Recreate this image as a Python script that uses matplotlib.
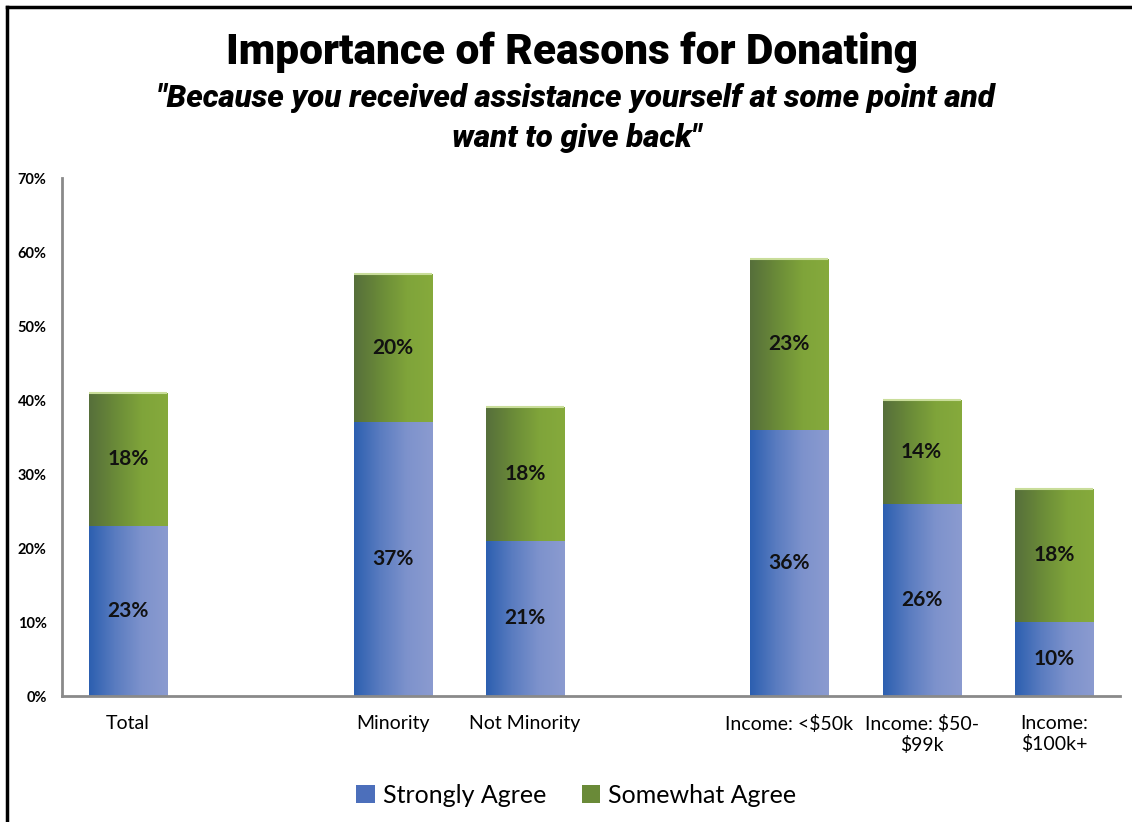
import matplotlib
matplotlib.use("Agg")
import matplotlib.pyplot as plt
import numpy as np
from matplotlib.colors import LinearSegmentedColormap
from matplotlib.patches import Rectangle
from matplotlib.lines import Line2D

categories = ["Total", "", "Minority", "Not Minority", "", "Income: <$50k", "Income: $50-\n$99k", "Income:\n$100k+"]
strongly = [23, None, 37, 21, None, 36, 26, 10]
somewhat = [18, None, 20, 18, None, 23, 14, 18]
series_names = ["Strongly Agree", "Somewhat Agree"]
yticks = [0, 10, 20, 30, 40, 50, 60, 70]

title = "Importance of Reasons for Donating"
subtitle = "\"Because you received assistance yourself at some point and\nwant to give back\""

W, H = 1132, 822
fig = plt.figure(figsize=(W / 100, H / 100), dpi=100)
ax = fig.add_axes([62 / W, 1 - 696 / H, (1120 - 62) / W, (696 - 178) / H])

blue_cmap = LinearSegmentedColormap.from_list("b", ["#2c5fb0", "#5a7cc0", "#7d92cc", "#8b9bd0"])
green_cmap = LinearSegmentedColormap.from_list("g", ["#566f3b", "#6a8a38", "#7fa43a", "#86aa3c"])
grad = np.linspace(0, 1, 256).reshape(1, -1)

x = np.arange(len(categories))
width = 0.59
label_font = ["Lato", "DejaVu Sans"]

for i in x:
    if strongly[i] is None:
        continue
    s, m = strongly[i], somewhat[i]
    for bottom, val, cmap in [(0, s, blue_cmap), (s, m, green_cmap)]:
        bars = ax.bar(i, val, width, bottom=bottom, color="none", edgecolor="none")
        patch = bars[0]
        im = ax.imshow(grad, cmap=cmap, aspect="auto", interpolation="bicubic",
                       extent=[i - width / 2, i + width / 2, bottom, bottom + val], zorder=2)
        im.set_clip_path(patch)
        ax.text(i, bottom + val / 2, f"{val}%", ha="center", va="center",
                fontsize=15, fontweight="bold", family=label_font, color="#111111", zorder=3)
    ax.hlines(s + m, i - width / 2, i + width / 2, color="#c9dd9a", lw=1.5, zorder=3)

ax.set_xlim(-0.5, len(categories) - 0.5)
ax.set_ylim(0, 70)
ax.set_yticks(yticks)
ax.set_yticklabels([f"{v}%" for v in yticks], fontsize=10.5, fontweight="bold", family=label_font)
ax.set_xticks(x)
ax.set_xticklabels(categories, fontsize=14, family=label_font, linespacing=1.2)
ax.tick_params(axis="both", length=0)
ax.tick_params(axis="y", pad=11)
ax.tick_params(axis="x", pad=14)
for sp in ["top", "right"]:
    ax.spines[sp].set_visible(False)
for sp in ["left", "bottom"]:
    ax.spines[sp].set_color("#8a8a8a")
    ax.spines[sp].set_linewidth(2)

title_font = ["Roboto", "DejaVu Sans"]
fig.text(0.505, 1 - 52 / H, title, ha="center", va="center", fontsize=30.5,
         fontweight="black", family=title_font)
fig.text(0.509, 1 - 118 / H, subtitle, ha="center", va="center", fontsize=22.5,
         fontweight="black", style="italic", family=title_font, linespacing=1.4)

handles = [Rectangle((0, 0), 1, 1, facecolor="#4c6fbb"), Rectangle((0, 0), 1, 1, facecolor="#6a8a38")]
fig.legend(handles, series_names, loc="center", bbox_to_anchor=(0.509, 1 - 795 / H), ncol=2,
           frameon=False, prop={"family": label_font, "size": 18}, handlelength=0.75,
           handleheight=0.75, handletextpad=0.3, columnspacing=1.42)

# frame around the figure (left and top edges visible)
fig.add_artist(Line2D([7 / W, 7 / W], [0, 1 - 7 / H], color="black", lw=2.5, transform=fig.transFigure))
fig.add_artist(Line2D([7 / W, 1], [1 - 7 / H, 1 - 7 / H], color="black", lw=2.5, transform=fig.transFigure))

fig.savefig("out.png", dpi=100)
